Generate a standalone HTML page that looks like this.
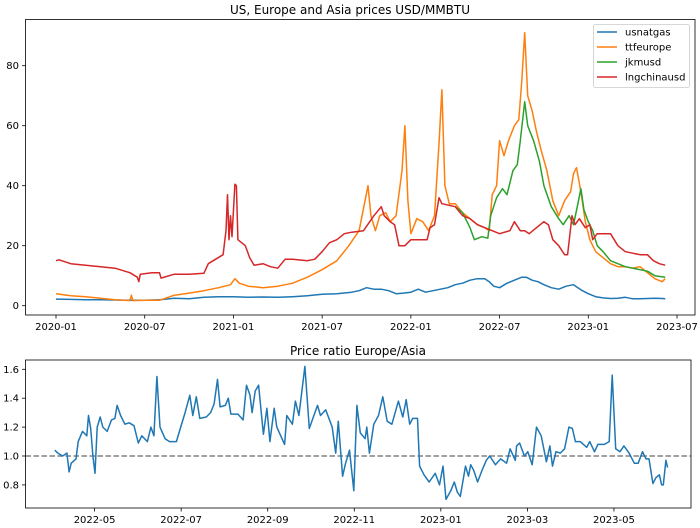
<!DOCTYPE html>
<html><head><meta charset="utf-8"><style>
html,body{margin:0;padding:0;background:#fff}
svg{display:block;font-family:"DejaVu Sans","Liberation Sans",sans-serif}
</style></head><body>
<svg id="c" width="700" height="528" viewBox="0 0 700 528"></svg>
<script>
// ---- top chart data (x = months since 2020-01) ----
const usX=[0,1,2,3,4,5,6,7,8,9,10,11,12,13,14,15,16,17,18,19,20,20.5,21,21.5,22,22.5,23,23.5,24,24.5,25,25.5,26,26.5,27,27.5,28,28.5,29,29.3,29.6,30,30.5,31,31.5,31.8,32.2,32.6,33,33.5,34,34.5,35,35.3,35.6,36,36.5,37,37.5,38,38.5,39,39.5,40,40.5,41,41.2];
const usV=[2.2,2.1,2,2,1.9,1.8,1.8,2,2.5,2.3,2.8,3,3,2.8,2.9,2.8,3,3.3,3.8,4,4.5,5,6,5.5,5.5,5,4,4.2,4.5,5.5,4.5,5,5.5,6,7,7.5,8.5,9,9,8,6.5,6,7.5,8.5,9.5,9.5,8.5,8,7,6,5.5,6.5,7,6,5,4,3,2.6,2.4,2.5,2.8,2.3,2.3,2.4,2.5,2.4,2.3];
const ttfX=[0,1,2,3,4,5,5.1,5.2,6,7,8,9,10,11,11.8,12.1,12.4,13,14,15,16,17,18,19,19.8,20.5,21.1,21.3,21.6,21.9,22.3,22.6,23,23.4,23.6,23.8,24,24.4,24.8,25.2,25.6,25.9,26.1,26.3,26.6,27,27.5,28,28.5,29,29.3,29.5,29.8,30,30.3,30.6,31,31.3,31.5,31.7,31.9,32.2,32.5,32.8,33.2,33.6,34,34.4,34.8,35,35.2,35.5,35.8,36.1,36.5,37,37.5,38,38.5,39,39.5,40,40.5,41,41.2];
const ttfV=[4,3.3,3,2.5,2,1.7,3.5,1.7,1.8,1.8,3.5,4.2,5,6,7,9,7.5,6.5,6,6.5,7.5,9.5,12,15,20,25,40,30,25,30,31,28,30,45,60,35,24,29,28,25,30,54,72,40,34,34,31,29,27,26,25,37,40,55,50,55,60,62,75,91,70,65,58,52,45,35,30,35,38,44,46,38,28,22,18,16,14,13,13,12.5,13,11,9,8,9];
const jkmX=[27,27.5,28,28.3,28.8,29.2,29.4,29.8,30.2,30.5,30.9,31.2,31.4,31.7,31.9,32.3,32.7,33,33.5,34,34.3,34.7,35,35.3,35.5,35.7,36,36.3,36.6,37,37.5,38,38.5,39,39.5,40,40.5,41.2];
const jkmV=[33,31,26,22,23,22.5,30,36,39,37,45,47,55,68,60,55,48,40,33,29,27,30,27,34,39,32,28,25,20,18,15,14,13,12.5,12,11.5,10,9.5];
const lngX=[0,0.2,1,2,3,4,5,5.5,5.6,5.7,6.5,7,7.1,8,9,10,10.3,10.8,11.3,11.5,11.6,11.7,11.8,11.9,12.1,12.2,12.3,12.8,13.1,13.4,14,14.5,15,15.5,16,17,17.5,18,18.5,19,19.5,20,20.8,21.5,22,22.2,22.6,22.9,23.2,23.6,24,24.5,25.1,25.3,25.6,25.9,26.1,27,27.5,28,28.5,29,29.5,30,30.7,31,31.4,31.7,32,32.5,33,33.3,33.6,34,34.4,34.6,34.9,35.1,35.4,35.8,36.1,36.3,36.6,37,37.5,38,38.5,39,39.5,40,40.4,40.8,41.2];
const lngV=[15,15.3,14,13.5,13,12.5,11,9.5,8,10.5,11,11,9.2,10.5,10.5,10.8,14,15.5,17,25,37,22,30,23,40.5,40,22,20,16,13.5,14,13,12.5,15.5,15.5,15,15.5,18,21,22,24,24.5,25,30,33,30,28,27,20,20,22,22,22,26,27,36,34,33,30,29,27,26,25,24,25,28,25,25,24,26,28,27,22,20,17,17,30,27,29,26,27,22,24,24,24,20,18,17.5,17,17,15,14,13.5];
const topTicksY=[0,20,40,60,80];
const topTicksX=["2020-01","2020-07","2021-01","2021-07","2022-01","2022-07","2023-01","2023-07"];
// ---- bottom chart data (x = months since 2022-05) ----
const ratioX=[-0.92,-0.85,-0.74,-0.64,-0.59,-0.54,-0.43,-0.38,-0.28,-0.18,-0.14,-0.09,-0.04,0.01,0.06,0.13,0.19,0.29,0.39,0.47,0.52,0.60,0.70,0.80,0.91,1.01,1.09,1.22,1.30,1.37,1.44,1.51,1.63,1.73,1.89,1.99,2.09,2.20,2.27,2.35,2.43,2.58,2.68,2.76,2.84,2.90,3.02,3.09,3.15,3.31,3.43,3.51,3.59,3.64,3.71,3.79,3.90,3.98,4.05,4.15,4.21,4.39,4.44,4.57,4.64,4.72,4.86,4.96,5.15,5.22,5.34,5.49,5.57,5.63,5.73,5.80,5.89,5.99,6.06,6.14,6.25,6.29,6.35,6.45,6.56,6.66,6.76,6.87,7.02,7.12,7.20,7.28,7.35,7.46,7.51,7.61,7.73,7.87,7.97,8.05,8.12,8.23,8.31,8.38,8.45,8.57,8.64,8.69,8.76,8.85,8.95,9.05,9.13,9.26,9.38,9.52,9.60,9.72,9.75,9.82,9.93,10.01,10.11,10.21,10.32,10.44,10.52,10.58,10.66,10.76,10.86,10.96,11.04,11.11,11.22,11.37,11.44,11.55,11.63,11.78,11.89,11.96,12.04,12.14,12.23,12.35,12.47,12.56,12.66,12.74,12.81,12.90,12.97,13.05,13.10,13.14,13.20,13.24];
const ratioV=[1.04,1.02,1.0,1.02,0.89,0.95,0.98,1.1,1.17,1.14,1.28,1.19,1.0,0.88,1.2,1.27,1.2,1.17,1.25,1.26,1.35,1.28,1.22,1.23,1.21,1.09,1.14,1.10,1.2,1.14,1.55,1.2,1.12,1.1,1.1,1.2,1.3,1.42,1.28,1.41,1.26,1.27,1.3,1.36,1.53,1.34,1.35,1.4,1.29,1.29,1.25,1.49,1.42,1.3,1.45,1.49,1.15,1.33,1.1,1.33,1.2,1.08,1.28,1.22,1.38,1.28,1.62,1.19,1.35,1.28,1.32,1.2,1.02,1.24,0.86,0.95,1.04,0.76,1.35,1.16,1.12,1.2,1.02,1.22,1.28,1.41,1.24,1.22,1.38,1.27,1.39,1.22,1.26,1.26,0.93,0.87,0.82,0.88,0.80,0.93,0.70,0.76,0.82,0.75,0.72,0.93,0.86,0.94,0.9,0.82,0.9,0.97,1.0,0.94,0.98,0.95,1.05,0.97,1.07,1.09,1.0,1.03,0.94,1.2,1.14,0.96,1.07,0.93,1.03,1.02,1.05,1.2,1.19,1.1,1.1,1.06,1.1,1.03,1.08,1.08,1.1,1.56,1.05,1.03,1.07,1.02,0.95,0.95,1.03,0.98,0.98,0.81,0.85,0.87,0.80,0.80,0.97,0.92];
const botTicksY=[0.8,1.0,1.2,1.4,1.6];
const botTicksX=["2022-05","2022-07","2022-09","2022-11","2023-01","2023-03","2023-05"];

const NS="http://www.w3.org/2000/svg";
const svg=document.getElementById('c');
function mk(tag,attrs,parent){const e=document.createElementNS(NS,tag);for(const k in attrs)e.setAttribute(k,attrs[k]);(parent||svg).appendChild(e);return e;}
// axis functions
const tx=m=>56+m*14.786, ty=v=>305.7-v*3.0;
const bx=m=>94.6+m*43.28, by=v=>456-(v-1)*144.5;

function frame(x0,y0,x1,y1,name){
  const r=mk('rect',{x:x0,y:y0,width:x1-x0,height:y1-y0,fill:'none',stroke:'#000','stroke-width':0.8});
  
  
}
function text(x,y,s,anchor,size,name){
  const t=mk('text',{x:x,y:y,'text-anchor':anchor,'font-size':size,fill:'#000'});
  t.textContent=s;
  
  
  return t;
}
function line(X,V,fx,fy,color,name){
  let d='';X.forEach((m,i)=>{d+=(i?'L':'M')+fx(m).toFixed(1)+','+fy(V[i]).toFixed(1);});
  const p=mk('path',{d:d,fill:'none',stroke:color,'stroke-width':1.5,'stroke-linejoin':'round'});
  
  
}

// ---- top chart ----
text(350,14,'US, Europe and Asia prices USD/MMBTU','middle',12,'top-chart-title');
topTicksY.forEach(v=>{
  const y=ty(v);
  const t=mk('line',{x1:22,x2:25.5,y1:y,y2:y,stroke:'#000','stroke-width':0.8});
  
  
  text(19,y+3.5,String(v),'end',10,'top-y-tick-label');
});
topTicksX.forEach((s,i)=>{
  const x=tx(i*6);
  const t=mk('line',{x1:x,x2:x,y1:315,y2:318.5,stroke:'#000','stroke-width':0.8});
  
  
  text(x,330,s,'middle',10,'top-x-tick-label');
});
line(usX,usV,tx,ty,'#1f77b4','series-usnatgas');
line(ttfX,ttfV,tx,ty,'#ff7f0e','series-ttfeurope');
line(jkmX,jkmV,tx,ty,'#2ca02c','series-jkmusd');
line(lngX,lngV,tx,ty,'#d62728','series-lngchinausd');
frame(25.5,19.5,695,315,'top-plot-area');
// legend
const lg=mk('rect',{x:593.5,y:24.5,width:96,height:63,rx:2,fill:'#fff','fill-opacity':0.8,stroke:'#ccc','stroke-width':0.8});


const legNames=['usnatgas','ttfeurope','jkmusd','lngchinausd'];
const legCols=['#1f77b4','#ff7f0e','#2ca02c','#d62728'];
legNames.forEach((n,i)=>{
  const y=32+i*15;
  const l=mk('line',{x1:597,x2:617,y1:y,y2:y,stroke:legCols[i],'stroke-width':1.5});
  
  
  text(625,y+3.5,n,'start',10,'legend-entry-'+n);
});

// ---- bottom chart ----
text(358,355,'Price ratio Europe/Asia','middle',12,'bottom-chart-title');
botTicksY.forEach(v=>{
  const y=by(v);
  const t=mk('line',{x1:22,x2:25.5,y1:y,y2:y,stroke:'#000','stroke-width':0.8});
  
  
  text(19,y+3.5,v.toFixed(1),'end',10,'bottom-y-tick-label');
});
botTicksX.forEach((s,i)=>{
  const x=bx(i*2);
  const t=mk('line',{x1:x,x2:x,y1:508,y2:511.5,stroke:'#000','stroke-width':0.8});
  
  
  text(x,523,s,'middle',10,'bottom-x-tick-label');
});
const ref=mk('line',{x1:25.5,x2:691,y1:by(1),y2:by(1),stroke:'#808080','stroke-width':1.5,'stroke-dasharray':'5.5,2.5'});


line(ratioX,ratioV,bx,by,'#1f77b4','series-price-ratio');
frame(25.5,360,691,508,'bottom-plot-area');
</script>
</body></html>
